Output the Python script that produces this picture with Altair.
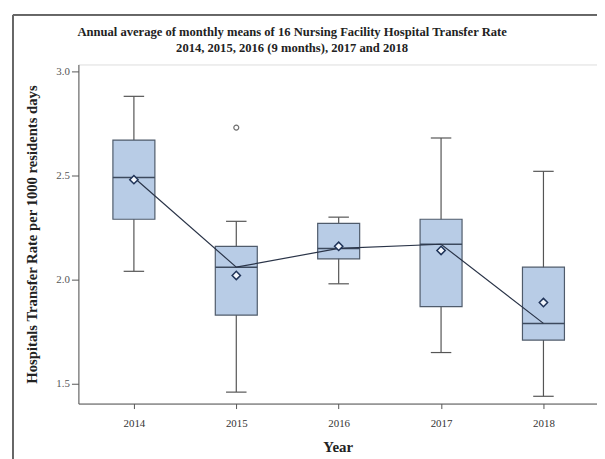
import altair as alt
import pandas as pd

years = [2014, 2015, 2016, 2017, 2018]
lower_whisker = [2.04, 1.46, 1.98, 1.65, 1.44]
q1 = [2.29, 1.83, 2.10, 1.87, 1.71]
median = [2.49, 2.06, 2.15, 2.17, 1.79]
q3 = [2.67, 2.16, 2.27, 2.29, 2.06]
upper_whisker = [2.88, 2.28, 2.30, 2.68, 2.52]
mean = [2.48, 2.02, 2.16, 2.14, 1.89]
outlier_years = [2015]
outlier_values = [2.73]

df = pd.DataFrame({
    "year": years, "lo": lower_whisker, "q1": q1, "med": median,
    "q3": q3, "hi": upper_whisker, "mean": mean,
})
df_out = pd.DataFrame({"year": outlier_years, "val": outlier_values})

xs = alt.Scale(domain=[2013.458, 2018.523], nice=False, zero=False)
ys = alt.Scale(domain=[1.405, 3.033], nice=False, zero=False)

x_axis = alt.Axis(values=years, format="d", title="Year", grid=False,
                  tickSize=5, labelPadding=9, titlePadding=11,
                  labelFont="Liberation Serif", labelFontSize=11,
                  labelColor="#333", titleFont="Liberation Serif",
                  titleFontSize=15, titleFontWeight="bold", titleColor="#222",
                  domain=True, domainColor="#555", tickColor="#555")
y_axis = alt.Axis(values=[1.5, 2.0, 2.5, 3.0], format=".1f",
                  title="Hospitals Transfer Rate per 1000 residents days",
                  grid=False, tickSize=7, labelPadding=2, titlePadding=17,
                  labelFont="Liberation Serif", labelFontSize=11,
                  labelColor="#555", titleFont="Liberation Serif",
                  titleFontSize=14.8, titleFontWeight="bold", titleColor="#222",
                  domain=True, domainColor="#555", tickColor="#555")

base = alt.Chart(df)

whisk = base.mark_rule(color="#555", strokeWidth=1.2).encode(
    x=alt.X("year:Q", scale=xs, axis=x_axis),
    y=alt.Y("lo:Q", scale=ys, axis=y_axis),
    y2="hi:Q",
)

caps_hi = base.transform_calculate(a="datum.year - 0.1", b="datum.year + 0.1").mark_rule(
    color="#555", strokeWidth=1.2).encode(
    x=alt.X("a:Q", scale=xs), x2="b:Q", y=alt.Y("hi:Q", scale=ys))
caps_lo = base.transform_calculate(a="datum.year - 0.1", b="datum.year + 0.1").mark_rule(
    color="#555", strokeWidth=1.2).encode(
    x=alt.X("a:Q", scale=xs), x2="b:Q", y=alt.Y("lo:Q", scale=ys))

boxes = base.transform_calculate(a="datum.year - 0.205", b="datum.year + 0.205").mark_rect(
    fill="#b8cce6", stroke="#4f5b6b", strokeWidth=1.2).encode(
    x=alt.X("a:Q", scale=xs), x2="b:Q",
    y=alt.Y("q1:Q", scale=ys), y2="q3:Q")

meds = base.transform_calculate(a="datum.year - 0.205", b="datum.year + 0.205").mark_rule(
    color="#3d4a5e", strokeWidth=1.5).encode(
    x=alt.X("a:Q", scale=xs), x2="b:Q", y=alt.Y("med:Q", scale=ys))

conn = base.mark_line(color="#2a3448", strokeWidth=1.2).encode(
    x=alt.X("year:Q", scale=xs), y=alt.Y("med:Q", scale=ys))

means = base.mark_point(shape="diamond", filled=True, fill="#f2f6fc",
                        stroke="#1f3358", strokeWidth=1.5, size=70, opacity=1).encode(
    x=alt.X("year:Q", scale=xs), y=alt.Y("mean:Q", scale=ys))

outs = alt.Chart(df_out).mark_point(shape="circle", filled=False,
                                    stroke="#333", strokeWidth=1.2, size=25).encode(
    x=alt.X("year:Q", scale=xs), y=alt.Y("val:Q", scale=ys))

frame_v = alt.Chart(df).mark_rule(color="#666", strokeWidth=1.2).encode(
    x=alt.value(-66), y=alt.value(-50), y2=alt.value(420))
frame_h = alt.Chart(df).mark_rule(color="#666", strokeWidth=1.2).encode(
    x=alt.value(-66), x2=alt.value(560), y=alt.value(-50))

chart = alt.layer(whisk, caps_hi, caps_lo, boxes, meds, conn, means, outs,
                  frame_v, frame_h).properties(
    width=523, height=342,
    autosize=alt.AutoSizeParams(type="none"),
    padding={"left": 71, "top": 55, "right": 0, "bottom": 60},
    title=alt.TitleParams(
        text=["Annual average of monthly means of 16 Nursing Facility Hospital Transfer Rate",
              "2014, 2015, 2016 (9 months), 2017 and 2018"],
        font="Liberation Serif", fontSize=12.7, fontWeight="bold", color="#222",
        anchor="middle", dx=-46, offset=-41, lineHeight=16,
    ),
).configure_view(stroke="#555", strokeWidth=1.2).configure(background="white")

chart.save("out.html", embed_options={"renderer": "svg", "actions": False})
